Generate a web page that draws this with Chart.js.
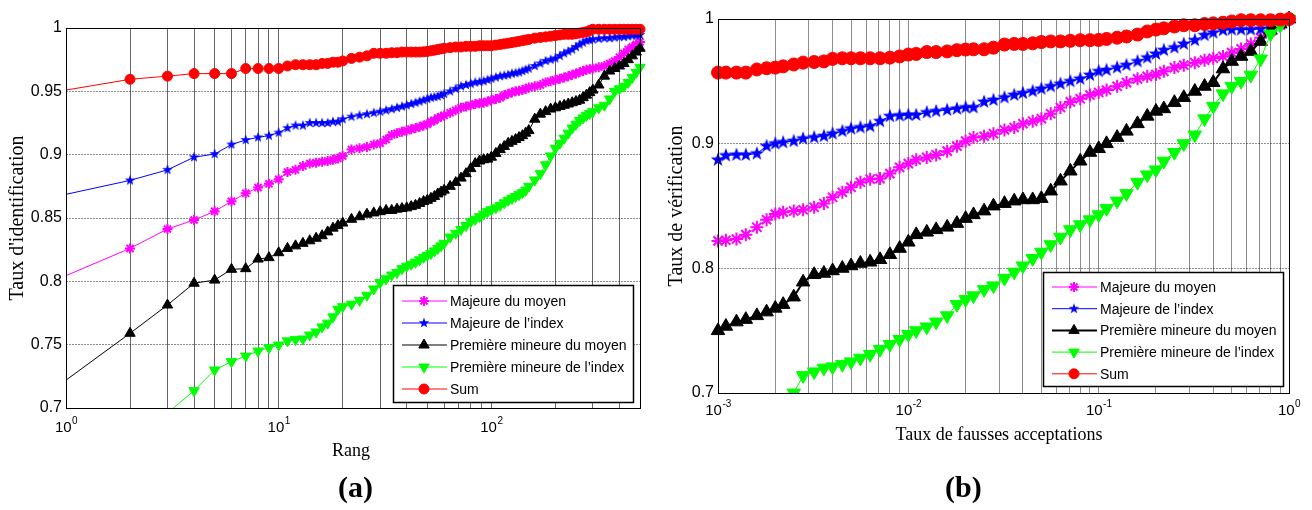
<!DOCTYPE html>
<html>
<head>
<meta charset="utf-8">
<script src="https://cdn.jsdelivr.net/npm/chart.js@4.4.0/dist/chart.umd.min.js"></script>
<style>
  body { margin: 0; background: #fff; }
  #wrap { position: relative; width: 1312px; height: 510px; overflow: hidden; }
  canvas { position: absolute; top: 0; }
  .tag { position: absolute; top: 470px; font: bold 30px "Liberation Serif", "Times New Roman", serif; color: #000; }
</style>
</head>
<body>
<div id="wrap">
  <canvas id="chart-a" width="656" height="510" style="left:0"></canvas>
  <canvas id="chart-b" width="656" height="510" style="left:656px"></canvas>
  <div class="tag" style="left:338px">(a)</div>
  <div class="tag" style="left:945px">(b)</div>
</div>
<script>
// ---- (a) CMC: rank vs identification rate ----
const ranks = [1,2,3,4,5,6,7,8,9,10,11,12,13,14,15,16,17,18,19,20,
  22,24,26,28,30,32,34,36,38,40,42,44,46,48,50,52,54,56,58,60,
  64,68,72,76,80,84,88,92,96,100,
  105,110,115,120,125,130,135,140,145,150,
  160,170,180,190,200,210,220,230,240,250,260,270,280,290,300,
  320,340,360,380,400,420,440,460,480,500];

const majMoyenA = [0.8045,0.826,0.8413,0.8484,0.8553,0.8632,0.8695,0.874,0.877,0.8805,0.8863,0.888,0.891,0.893,0.8937,0.8945,0.895,0.896,0.897,0.899,
  0.904,0.905,0.906,0.908,0.909,0.912,0.9155,0.917,0.918,0.919,
  0.920,0.921,0.922,0.923,0.924,0.926,0.927,0.929,0.930,0.931,
  0.933,0.935,0.937,0.938,0.939,0.940,0.9405,0.941,0.942,0.943,
  0.944,0.945,0.947,0.948,0.949,0.950,0.9505,0.951,0.952,0.953,
  0.954,0.955,0.957,0.958,0.959,0.960,0.961,0.962,0.963,0.964,0.965,0.966,0.967,0.9675,0.968,
  0.969,0.970,0.972,0.974,0.977,0.980,0.983,0.985,0.987,0.989];

const majIndexA = [0.8687,0.8797,0.888,0.898,0.9005,0.908,0.9116,0.9137,0.915,0.9174,0.921,0.923,0.923,0.925,0.925,0.925,0.925,0.926,0.926,0.928,
  0.930,0.931,0.932,0.933,0.934,0.935,0.936,0.937,0.938,0.939,
  0.940,0.941,0.942,0.943,0.944,0.945,0.9455,0.946,0.947,0.948,
  0.950,0.952,0.954,0.955,0.956,0.957,0.9575,0.958,0.959,0.960,
  0.961,0.962,0.9625,0.963,0.964,0.9645,0.965,0.966,0.967,0.968,
  0.970,0.972,0.974,0.975,0.976,0.978,0.980,0.9815,0.983,0.985,0.987,0.9885,0.990,0.9905,0.991,
  0.9915,0.992,0.992,0.9925,0.993,0.993,0.9935,0.994,0.994,0.9945];

const premMoyenA = [0.722,0.759,0.7813,0.7985,0.801,0.8095,0.810,0.8176,0.8187,0.8226,0.826,0.828,0.830,0.832,0.834,0.836,0.839,0.842,0.844,0.846,
  0.849,0.851,0.853,0.854,0.855,0.856,0.856,0.857,0.8575,0.858,
  0.859,0.860,0.8615,0.863,0.864,0.8655,0.867,0.869,0.8705,0.872,
  0.875,0.878,0.8815,0.885,0.889,0.893,0.895,0.896,0.8965,0.898,
  0.901,0.904,0.9065,0.909,0.9105,0.912,0.9135,0.915,0.917,0.919,
  0.928,0.932,0.934,0.936,0.937,0.938,0.939,0.940,0.941,0.942,0.943,0.945,0.947,0.949,0.951,
  0.955,0.962,0.966,0.968,0.970,0.972,0.975,0.978,0.981,0.984];

const premIndexA = [0.640,0.672,0.696,0.7137,0.730,0.7366,0.741,0.745,0.7476,0.7497,0.753,0.754,0.7545,0.7576,0.760,0.764,0.767,0.772,0.778,0.780,
  0.782,0.785,0.789,0.794,0.799,0.802,0.805,0.807,0.810,0.812,
  0.8135,0.815,0.817,0.819,0.8205,0.822,0.824,0.826,0.828,0.830,
  0.835,0.838,0.841,0.844,0.847,0.849,0.851,0.853,0.855,0.8565,
  0.858,0.860,0.862,0.864,0.8655,0.867,0.8685,0.870,0.872,0.875,
  0.880,0.885,0.892,0.899,0.905,0.909,0.913,0.917,0.921,0.924,0.927,0.929,0.931,0.9325,0.934,
  0.937,0.939,0.944,0.950,0.952,0.954,0.957,0.961,0.965,0.969];

const sumA = [0.951,0.9595,0.962,0.964,0.964,0.964,0.968,0.968,0.968,0.968,0.970,0.971,0.971,0.971,0.971,0.972,0.972,0.973,0.973,0.974,
  0.976,0.977,0.978,0.980,0.980,0.980,0.9805,0.9805,0.981,0.981,
  0.981,0.981,0.981,0.9812,0.9815,0.982,0.9825,0.983,0.9835,0.984,
  0.9845,0.985,0.985,0.9855,0.9855,0.9855,0.986,0.986,0.986,0.986,
  0.9865,0.987,0.9875,0.988,0.9885,0.989,0.9895,0.990,0.9905,0.991,
  0.992,0.9925,0.993,0.9935,0.994,0.9945,0.995,0.995,0.995,0.9955,0.996,0.9965,0.997,0.998,0.999,
  0.999,0.999,0.999,0.999,0.999,0.999,0.999,0.999,0.999,0.999];

// ---- (b) ROC: false acceptance rate vs verification rate ----
const far = [0.001,0.0011,0.00125,0.0014,0.0016,0.0018,0.002,0.0022,0.0025,0.0028,0.0032,0.0036,0.004,0.0045,0.005,0.0056,0.0063,0.0071,0.008,0.009,
  0.01,0.011,0.0125,0.014,0.016,0.018,0.02,0.022,0.025,0.028,0.032,0.036,0.04,0.045,0.05,0.056,0.063,0.071,0.08,0.09,
  0.1,0.11,0.125,0.14,0.16,0.18,0.2,0.22,0.25,0.28,0.32,0.36,0.4,0.45,0.5,0.56,0.63,0.71,0.8,0.9,1];

const majMoyenB = [0.822,0.8225,0.8235,0.827,0.833,0.839,0.8435,0.845,0.846,0.847,0.849,0.852,0.857,0.861,0.865,0.869,0.8715,0.872,0.876,0.881,
  0.884,0.887,0.889,0.891,0.894,0.898,0.902,0.905,0.906,0.908,0.911,0.913,0.916,0.918,0.920,0.924,0.929,0.9335,0.936,0.939,
  0.941,0.943,0.946,0.949,0.952,0.954,0.9555,0.958,0.961,0.963,0.965,0.967,0.9685,0.970,0.973,0.976,0.980,0.985,0.990,0.995,1.0];

const majIndexB = [0.887,0.8905,0.891,0.891,0.892,0.898,0.900,0.901,0.902,0.904,0.905,0.906,0.908,0.910,0.912,0.913,0.914,0.918,0.922,0.9225,
  0.923,0.923,0.925,0.926,0.927,0.928,0.929,0.929,0.9335,0.935,0.937,0.939,0.9405,0.942,0.944,0.946,0.948,0.950,0.952,0.955,
  0.958,0.959,0.961,0.963,0.966,0.969,0.972,0.975,0.977,0.980,0.983,0.987,0.989,0.991,0.9915,0.9915,0.9915,0.992,0.994,0.997,1.0];

const premMoyenB = [0.750,0.7535,0.757,0.759,0.762,0.765,0.768,0.771,0.777,0.789,0.795,0.796,0.798,0.800,0.802,0.804,0.805,0.807,0.811,0.816,
  0.821,0.827,0.829,0.831,0.833,0.836,0.840,0.843,0.846,0.850,0.852,0.854,0.855,0.855,0.856,0.862,0.870,0.878,0.886,0.893,
  0.896,0.900,0.905,0.910,0.916,0.922,0.926,0.928,0.933,0.937,0.942,0.946,0.949,0.960,0.966,0.970,0.974,0.982,0.991,0.996,1.0];

const premIndexB = [null,null,null,null,null,null,null,null,0.700,0.714,0.717,0.720,0.721,0.723,0.725,0.728,0.731,0.735,0.739,0.743,
  0.747,0.750,0.753,0.757,0.762,0.771,0.775,0.778,0.783,0.786,0.792,0.797,0.802,0.808,0.813,0.819,0.825,0.831,0.835,0.839,
  0.843,0.848,0.854,0.860,0.869,0.875,0.879,0.886,0.893,0.900,0.907,0.920,0.930,0.940,0.946,0.950,0.955,0.968,0.988,0.995,1.0];

const sumB = [0.957,0.957,0.957,0.957,0.9595,0.9605,0.961,0.962,0.9635,0.965,0.9655,0.966,0.968,0.9685,0.9685,0.9685,0.9685,0.9685,0.969,0.970,
  0.9715,0.972,0.9735,0.9735,0.974,0.975,0.9755,0.9757,0.9757,0.977,0.9795,0.980,0.980,0.9805,0.9815,0.982,0.982,0.9825,0.983,0.983,
  0.9832,0.984,0.985,0.986,0.9875,0.990,0.9915,0.9925,0.994,0.995,0.995,0.996,0.9965,0.997,0.998,0.999,0.999,0.999,0.999,0.9995,1.0];

const seriesNames = ['Majeure du moyen', 'Majeure de l\u2019index', 'Premi\u00e8re mineure du moyen', 'Premi\u00e8re mineure de l\u2019index', 'Sum'];
const seriesColors = ['#ff00ff', '#0000ff', '#000000', '#00ff00', '#ff0000'];

// grid positions of the log axes (MATLAB style minor grid)
const rankGrid = [1,2,3,4,5,6,7,8,9,10,20,30,40,50,60,70,80,90,100,200,300,400,500];
const farGrid = [0.001,0.002,0.003,0.004,0.005,0.006,0.007,0.008,0.009,0.01,0.02,0.03,0.04,0.05,0.06,0.07,0.08,0.09,0.1,0.2,0.3,0.4,0.5,0.6,0.7,0.8,0.9,1];

// five pointed star marker, Chart.js has none
function pentagram(color, size) {
  const c = document.createElement('canvas');
  c.width = c.height = size;
  const g = c.getContext('2d');
  const R = size / 2 - 0.5, r = R * 0.4;
  g.beginPath();
  for (let i = 0; i < 10; i++) {
    const a = -Math.PI / 2 + i * Math.PI / 5;
    const rad = i % 2 ? r : R;
    g.lineTo(size / 2 + rad * Math.cos(a), size / 2 + rad * Math.sin(a));
  }
  g.closePath();
  g.fillStyle = color;
  g.fill();
  return c;
}

function makeMarkers(k) {
  return [
    { pointStyle: 'star', rotation: 0, radius: 5 * k, borderWidth: 2 },
    { pointStyle: pentagram('#0000ff', Math.round(12 * k)), rotation: 0, radius: 6 * k, borderWidth: 0 },
    { pointStyle: 'triangle', rotation: 0, radius: 6 * k, borderWidth: 1 },
    { pointStyle: 'triangle', rotation: 180, radius: 6 * k, borderWidth: 1 },
    { pointStyle: 'circle', rotation: 0, radius: 5 * k, borderWidth: 1 }
  ];
}

function makeDatasets(xs, series, hideFirst, lineWidths, markers) {
  return series.map((vals, i) => ({
    label: seriesNames[i],
    data: xs.map((x, j) => ({ x: x, y: vals[j] })),
    borderColor: seriesColors[i],
    backgroundColor: seriesColors[i],
    borderWidth: lineWidths[i],
    pointStyle: markers[i].pointStyle,
    pointRotation: markers[i].rotation,
    pointRadius: hideFirst ? (c => c.dataIndex === 0 ? 0 : markers[i].radius) : markers[i].radius,
    pointBorderWidth: markers[i].borderWidth,
    pointBorderColor: seriesColors[i],
    pointBackgroundColor: seriesColors[i],
    tension: 0,
    order: 5 - i,
    clip: { left: 8, top: 8, right: 8, bottom: 0 }
  }));
}

// frame, log tick labels, axis titles and the boxed legend
const decor = {
  id: 'decor',
  afterDraw(chart, args, o) {
    const { ctx, chartArea: a } = chart;
    const xs = chart.scales.x;
    ctx.save();
    ctx.strokeStyle = '#000';
    ctx.lineWidth = 1;
    ctx.strokeRect(a.left + 0.5, a.top + 0.5, a.right - a.left, a.bottom - a.top);

    ctx.fillStyle = '#000';
    ctx.textBaseline = 'middle';
    o.powers.forEach(p => {
      const px = xs.getPixelForValue(Math.pow(10, p));
      ctx.font = '15px "Liberation Sans", Arial, sans-serif';
      const w1 = ctx.measureText('10').width;
      ctx.font = '10px "Liberation Sans", Arial, sans-serif';
      const w2 = ctx.measureText(String(p)).width;
      const x0 = px - (w1 + w2) / 2;
      ctx.textAlign = 'left';
      ctx.font = '15px "Liberation Sans", Arial, sans-serif';
      ctx.fillText('10', x0, a.bottom + o.tickDy);
      ctx.font = '10px "Liberation Sans", Arial, sans-serif';
      ctx.fillText(String(p), x0 + w1 + 0.5, a.bottom + o.tickDy - 7);
    });

    ctx.textAlign = 'center';
    ctx.font = '18px "Liberation Serif", "Times New Roman", serif';
    ctx.fillText(o.xTitle, o.xTitlePos[0], o.xTitlePos[1]);
    ctx.save();
    ctx.translate(o.yTitlePos[0], o.yTitlePos[1]);
    ctx.rotate(-Math.PI / 2);
    ctx.font = '20px "Liberation Serif", "Times New Roman", serif';
    ctx.fillText(o.yTitle, 0, 0);
    ctx.restore();

    // legend box
    const L = o.legend;
    const bx = a.right - L.right - L.width, by = a.bottom - L.bottom - L.height;
    ctx.fillStyle = '#fff';
    ctx.fillRect(bx, by, L.width, L.height);
    ctx.strokeStyle = '#000';
    ctx.lineWidth = 1.5;
    ctx.strokeRect(bx + 0.5, by + 0.5, L.width, L.height);
    chart.data.datasets.forEach((ds, i) => {
      const m = L.markers[i];
      const y = by + L.first + i * L.step;
      ctx.strokeStyle = ds.borderColor;
      ctx.fillStyle = ds.borderColor;
      ctx.lineWidth = ds.borderWidth;
      ctx.beginPath();
      ctx.moveTo(bx + 9, y);
      ctx.lineTo(bx + 54, y);
      ctx.stroke();
      ctx.lineWidth = m.borderWidth;
      Chart.helpers.drawPoint(ctx, {
        pointStyle: m.pointStyle,
        rotation: m.rotation,
        radius: m.radius,
        borderWidth: m.borderWidth
      }, bx + 31, y);
      ctx.fillStyle = '#000';
      ctx.textAlign = 'left';
      ctx.font = '14px "Liberation Sans", Arial, sans-serif';
      ctx.fillText(ds.label, bx + 57, y + 1);
    });
    ctx.restore();
  }
};

function yTickLabel(v) {
  return String(Number(v.toFixed(2)));
}

function makeChart(id, xs, series, xMin, xMax, gridVals, yStep, pad, hideFirst, lineWidths, markers, xGridColor, deco) {
  deco.legend.markers = makeMarkers(1);
  return new Chart(document.getElementById(id), {
    type: 'line',
    data: { datasets: makeDatasets(xs, series, hideFirst, lineWidths, markers) },
    options: {
      responsive: false,
      animation: false,
      devicePixelRatio: 1,
      layout: { padding: pad },
      plugins: { legend: { display: false }, tooltip: { enabled: false }, decor: deco },
      scales: {
        x: {
          type: 'logarithmic',
          min: xMin,
          max: xMax,
          afterBuildTicks: s => { s.ticks = gridVals.map(v => ({ value: v })); },
          afterFit: s => { s.height = 40; },
          ticks: { display: false },
          grid: { color: xGridColor, lineWidth: 1, drawTicks: false },
          border: { display: false }
        },
        y: {
          type: 'linear',
          min: 0.7,
          max: 1,
          afterFit: s => { s.width = 50; },
          ticks: {
            stepSize: yStep,
            padding: 4,
            color: '#000',
            font: { family: '"Liberation Sans", Arial, sans-serif', size: 16 },
            callback: yTickLabel
          },
          grid: { color: 'rgba(0,0,0,0.45)', lineWidth: 1, drawTicks: false },
          border: { display: false, dash: [2, 1] }
        }
      }
    },
    plugins: [decor]
  });
}

makeChart('chart-a', ranks, [majMoyenA, majIndexA, premMoyenA, premIndexA, sumA],
  1, 500, rankGrid, 0.05,
  { left: 16, top: 28, right: 16, bottom: 62 }, true, [1, 1, 1, 1, 1], makeMarkers(1), 'rgba(0,0,0,0.6)',
  {
    powers: [0, 1, 2], tickDy: 20,
    xTitle: 'Rang', xTitlePos: [351, 451],
    yTitle: 'Taux d\'identification', yTitlePos: [18, 218],
    legend: { right: 7, bottom: 6, width: 240, height: 117, first: 16, step: 22 }
  });

makeChart('chart-b', far, [majMoyenB, majIndexB, premMoyenB, premIndexB, sumB],
  0.001, 1, farGrid, 0.1,
  { left: 12, top: 19, right: 23, bottom: 77 }, false, [1, 1, 2, 1, 1], makeMarkers(1.3), 'rgba(0,0,0,0.45)',
  {
    powers: [-3, -2, -1, 0], tickDy: 18,
    xTitle: 'Taux de fausses acceptations', xTitlePos: [343, 435],
    yTitle: 'Taux de v\u00e9rification', yTitlePos: [21, 206],
    legend: { right: 6, bottom: 7, width: 240, height: 114, first: 15, step: 21.7 }
  });
</script>
</body>
</html>
